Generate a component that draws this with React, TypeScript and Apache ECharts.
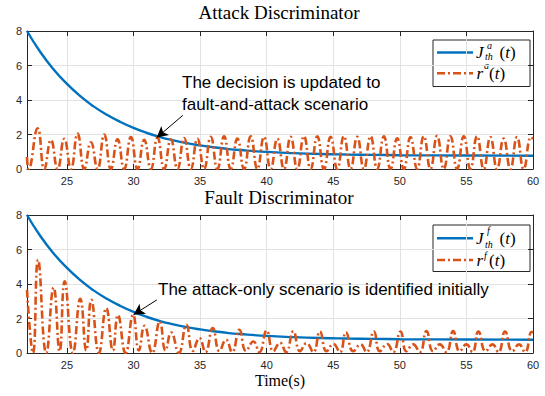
import React, { useEffect, useRef } from "react";
import * as echarts from "echarts";

// ---- data ----
const thresholdTime = [22, 23, 24, 25, 26, 27, 28, 29, 30, 31, 32, 33, 34, 35, 36, 37, 38, 40, 42, 44, 46, 48, 50, 55, 60];
const thresholdA = [8.0, 6.78, 5.77, 4.93, 4.22, 3.63, 3.14, 2.73, 2.38, 2.09, 1.85, 1.66, 1.5, 1.37, 1.26, 1.17, 1.1, 0.99, 0.92, 0.87, 0.84, 0.82, 0.8, 0.78, 0.77];
const thresholdF = [8.0, 6.78, 5.77, 4.93, 4.22, 3.63, 3.14, 2.73, 2.38, 2.09, 1.85, 1.66, 1.5, 1.37, 1.26, 1.17, 1.1, 0.99, 0.92, 0.87, 0.84, 0.82, 0.8, 0.78, 0.77];

const residualATime = [
  22.0, 22.12, 22.8, 23.3, 23.8, 24.3, 24.8, 25.3, 25.8, 26.3, 26.8, 27.3, 27.8, 28.3, 28.8, 29.3, 29.8, 30.3,
  30.8, 31.3, 31.8, 32.3, 32.8, 33.3, 33.8, 34.3, 34.8, 35.3, 35.8, 36.3, 36.8, 37.3, 37.8, 38.3, 38.8, 39.3,
  39.8, 40.3, 40.8, 41.3, 41.8, 42.3, 42.8, 43.3, 43.8, 44.3, 44.8, 45.3, 45.8, 46.3, 46.8, 47.3, 47.8, 48.3,
  48.8, 49.3, 49.8, 50.3, 50.8, 51.3, 51.8, 52.3, 52.8, 53.3, 53.8, 54.3, 54.8, 55.3, 55.8, 56.3, 56.8, 57.3,
  57.8, 58.3, 58.8, 59.3, 59.85, 60.0,
];
const residualA = [
  0.7, 0, 2.36, 0, 1.68, 0, 1.75, 0, 2.05, 0, 1.55, 0, 2.0, 0, 1.72, 0, 1.85, 0,
  1.7, 0, 1.82, 0, 1.72, 0, 1.8, 0, 1.75, 0, 1.86, 0, 1.9, 0, 1.76, 0, 1.9, 0,
  1.86, 0, 1.76, 0, 1.86, 0, 1.9, 0, 1.9, 0, 1.86, 0, 1.9, 0, 1.86, 0, 1.9, 0,
  1.9, 0, 1.78, 0, 1.85, 0, 1.9, 0, 1.92, 0, 1.9, 0, 1.9, 0, 1.9, 0, 1.85, 0,
  1.76, 0, 1.85, 0, 1.85, 1.75,
];

const residualFTime = [
  22.0, 22.45, 22.83, 23.45, 24.0, 24.45, 24.83, 25.45, 26.0, 26.45, 26.83, 27.4, 27.95, 28.45, 28.83, 29.4,
  29.97, 30.4, 30.83, 31.4, 31.97, 32.4, 32.83, 33.4, 33.97, 34.45, 34.95, 35.4, 35.95, 36.45, 36.95, 37.4,
  37.95, 38.45, 39.0, 39.45, 40.0, 40.5, 41.0, 41.45, 42.0, 42.5, 43.0, 43.5, 44.0, 44.5, 45.0, 45.5,
  45.95, 46.5, 47.05, 47.5, 48.05, 48.5, 49.05, 49.5, 50.05, 50.5, 51.0, 51.5, 52.0, 52.5, 53.0, 53.5,
  54.0, 54.5, 55.0, 55.45, 55.9, 56.45, 56.95, 57.4, 57.9, 58.45, 58.95, 59.4, 59.9, 60.0,
];
const residualF = [
  3.66, 0, 5.4, 0, 3.8, 0.1, 4.15, 0, 3.14, 0.15, 3.08, 0, 2.6, 0.15, 2.2, 0,
  2.22, 0.15, 1.58, 0, 1.83, 0.15, 1.19, 0, 1.64, 0.12, 0.87, 0.05, 1.45, 0.12, 0.77, 0.05,
  1.35, 0.12, 0.67, 0.05, 1.3, 0.1, 0.6, 0.05, 1.26, 0.1, 0.57, 0.05, 1.25, 0.1, 0.52, 0.05,
  1.2, 0.1, 0.5, 0.05, 1.25, 0.1, 0.52, 0.05, 1.25, 0.1, 0.5, 0.05, 1.27, 0.1, 0.5, 0.05,
  1.27, 0.1, 0.5, 0.05, 1.25, 0.1, 0.5, 0.05, 1.25, 0.1, 0.5, 0.05, 1.22, 1.2,
];

const yTicks = [0, 2, 4, 6, 8];
const titles = ["Attack Discriminator", "Fault Discriminator"];
const annotationA = ["The decision is updated to", "fault-and-attack scenario"];
const annotationF = "The attack-only scenario is identified initially";
const arrowA = [[33.7, 3.11], [31.75, 1.82]];
const arrowF = [[31.75, 3.08], [30.0, 2.22]];

const BLUE = "#0072BD";
const ORANGE = "#D95319";
const AXIS = "#262626";
const GRID = "#e2e2e2";
const SANS = "'Liberation Sans', Arial, Helvetica, sans-serif";
const SERIF = "'Liberation Serif', 'Times New Roman', serif";
const DASHDOT = [8, 3, 2, 3];

const zip = (t: number[], v: number[]) => t.map((x, i) => [x, v[i]]);

function xAxes(grid: number, withName: boolean) {
  const common = {
    gridIndex: grid,
    type: "value",
    min: 22,
    max: 60,
    minInterval: 5,
    maxInterval: 5,
    axisLine: { show: true, onZero: false, lineStyle: { color: AXIS, width: 1 } },
    axisTick: { show: true, inside: true, length: 5, lineStyle: { color: AXIS, width: 1 } },
  };
  return [
    {
      ...common,
      position: "bottom",
      axisLabel: { showMinLabel: false, color: AXIS, fontSize: 11, fontFamily: SANS, margin: 6 },
      splitLine: { show: true, lineStyle: { color: GRID, width: 1 } },
      ...(withName
        ? {
            name: "Time(s)",
            nameLocation: "middle",
            nameGap: 19,
            nameTextStyle: { fontFamily: SERIF, fontSize: 16, color: "#000" },
          }
        : {}),
    },
    { ...common, position: "top", axisLabel: { show: false }, splitLine: { show: false } },
  ];
}

function yAxes(grid: number) {
  const common = {
    gridIndex: grid,
    type: "value",
    min: yTicks[0],
    max: yTicks[yTicks.length - 1],
    interval: yTicks[1] - yTicks[0],
    axisLine: { show: true, onZero: false, lineStyle: { color: AXIS, width: 1 } },
    axisTick: { show: true, inside: true, length: 5, lineStyle: { color: AXIS, width: 1 } },
  };
  return [
    {
      ...common,
      position: "left",
      axisLabel: { color: AXIS, fontSize: 11, fontFamily: SANS, margin: 5 },
      splitLine: { show: true, lineStyle: { color: GRID, width: 1 } },
    },
    { ...common, position: "right", axisLabel: { show: false }, splitLine: { show: false } },
  ];
}

function arrowMark(pts: number[][]) {
  return {
    silent: true,
    symbol: ["none", "arrow"],
    symbolSize: [9, 11],
    label: { show: false },
    lineStyle: { color: "#000", width: 1, type: "solid" },
    emphasis: { disabled: true },
    data: [[{ coord: pts[0] }, { coord: pts[1] }]],
  };
}

const paren = {
  p: { fontFamily: SERIF, fontSize: 17, fill: "#000" },
  i: { fontFamily: SERIF, fontSize: 17, fontStyle: "italic", fill: "#000" },
};

function legendGroup(top: number, sup: string, rows: number[], supY: number[], subY: number) {
  const left = 433;
  const small = { fontFamily: SERIF, fontStyle: "italic", fontSize: 10, fill: "#000", verticalAlign: "middle" };
  const big = { fontFamily: SERIF, fontStyle: "italic", fontSize: 17, fill: "#000", verticalAlign: "middle" };
  const els: any[] = [
    {
      type: "rect",
      shape: { x: left, y: top, width: 97, height: 46.5 },
      style: { fill: "#fff", stroke: AXIS, lineWidth: 1 },
    },
    { type: "line", shape: { x1: 437, y1: rows[0], x2: 473, y2: rows[0] }, style: { stroke: BLUE, lineWidth: 2.4 } },
    {
      type: "line",
      shape: { x1: 437, y1: rows[1], x2: 473, y2: rows[1] },
      style: { stroke: ORANGE, lineWidth: 2.4, lineDash: DASHDOT },
    },
    { type: "text", style: { ...big, text: "J", x: 476, y: rows[0] } },
    { type: "text", style: { ...small, text: sup, x: 487, y: supY[0] } },
    { type: "text", style: { ...small, text: "th", x: 485, y: subY } },
    {
      type: "text",
      style: { text: "{p|(}{i|t}{p|)}", x: 499.5, y: rows[0], verticalAlign: "middle", rich: paren },
    },
    { type: "text", style: { ...big, text: "r", x: 476.5, y: rows[1] } },
    { type: "text", style: { ...small, text: sup, x: 484, y: supY[1] } },
    {
      type: "text",
      style: { text: "{p|(}{i|t}{p|)}", x: 489, y: rows[1], verticalAlign: "middle", rich: paren },
    },
  ];
  return { type: "group", z: 100, children: els };
}

export default function App() {
  const ref = useRef<HTMLDivElement>(null);
  useEffect(() => {
    document.body.style.margin = "0";
    const chart = echarts.init(ref.current!, null, { renderer: "svg" });
    const annoStyle = { fontFamily: SANS, fontSize: 17, fill: "#000", verticalAlign: "middle" };
    chart.setOption({
      animation: false,
      backgroundColor: "#fff",
      title: titles.map((t, i) => ({
        text: t,
        left: 279,
        top: i === 0 ? 3 : 188,
        textAlign: "center",
        padding: 0,
        textStyle: { fontFamily: SERIF, fontSize: 19, fontWeight: "normal", color: "#000", lineHeight: 19 },
      })),
      grid: [
        { left: 27, top: 31, width: 506, height: 138, containLabel: false },
        { left: 27, top: 215, width: 506, height: 138, containLabel: false },
      ],
      xAxis: [...xAxes(0, false), ...xAxes(1, true)],
      yAxis: [...yAxes(0), ...yAxes(1)],
      series: [
        {
          name: "J_th^a(t)",
          type: "line",
          xAxisIndex: 0,
          yAxisIndex: 0,
          data: zip(thresholdTime, thresholdA),
          smooth: true,
          showSymbol: false,
          lineStyle: { color: BLUE, width: 2.4 },
          z: 2,
        },
        {
          name: "r^a(t)",
          type: "line",
          xAxisIndex: 0,
          yAxisIndex: 0,
          data: zip(residualATime, residualA),
          smooth: 0.5,
          showSymbol: false,
          lineStyle: { color: ORANGE, width: 2.6, type: DASHDOT },
          markLine: arrowMark(arrowA),
          z: 3,
        },
        {
          name: "J_th^f(t)",
          type: "line",
          xAxisIndex: 2,
          yAxisIndex: 2,
          data: zip(thresholdTime, thresholdF),
          smooth: true,
          showSymbol: false,
          lineStyle: { color: BLUE, width: 2.4 },
          z: 2,
        },
        {
          name: "r^f(t)",
          type: "line",
          xAxisIndex: 2,
          yAxisIndex: 2,
          data: zip(residualFTime, residualF),
          smooth: 0.5,
          showSymbol: false,
          lineStyle: { color: ORANGE, width: 2.6, type: DASHDOT },
          markLine: arrowMark(arrowF),
          z: 3,
        },
      ],
      graphic: [
        legendGroup(40, "a", [52.5, 73.3], [45, 65.5], 56),
        legendGroup(225, "f", [238.3, 260], [230.5, 255.5], 244.5),
        { type: "text", z: 100, style: { ...annoStyle, text: annotationA[0], x: 182, y: 82 } },
        { type: "text", z: 100, style: { ...annoStyle, text: annotationA[1], x: 182, y: 104.5 } },
        { type: "text", z: 100, style: { ...annoStyle, text: annotationF, x: 158, y: 289 } },
      ],
    });
    return () => chart.dispose();
  }, []);
  return <div ref={ref} style={{ width: 545, height: 396 }} />;
}
